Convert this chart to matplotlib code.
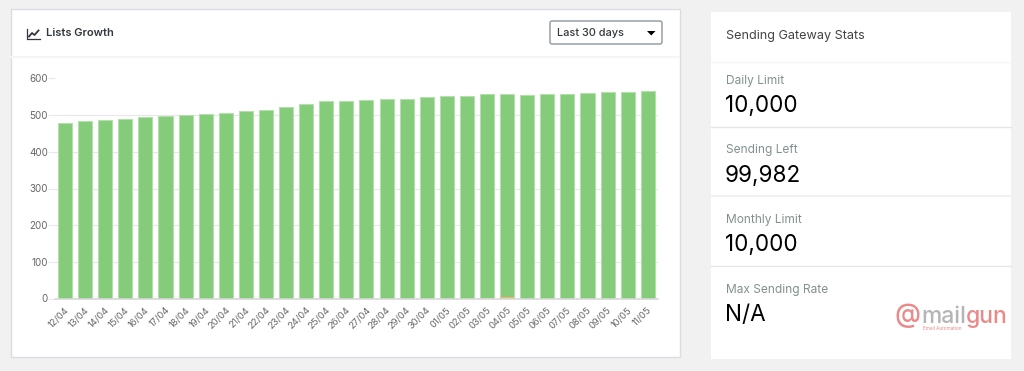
import matplotlib
matplotlib.use("Agg")
import matplotlib.pyplot as plt
from matplotlib.patches import Rectangle, Polygon, FancyBboxPatch
from matplotlib.transforms import ScaledTranslation

dates = ["12/04", "13/04", "14/04", "15/04", "16/04", "17/04", "18/04", "19/04", "20/04", "21/04",
         "22/04", "23/04", "24/04", "25/04", "26/04", "27/04", "28/04", "29/04", "30/04", "01/05",
         "02/05", "03/05", "04/05", "05/05", "06/05", "07/05", "08/05", "09/05", "10/05", "11/05"]
subscribers = [478, 484, 488, 490, 494, 497, 500, 502, 505, 510,
               513, 521, 530, 538, 539, 540, 544, 544, 549, 552,
               553, 557, 557, 555, 558, 559, 560, 562, 563, 565]
unsubscribed = [0, 0, 0, 0, 0, 0, 0, 0, 0, 0,
                0, 0, 0, 0, 0, 0, 0, 0, 0, 0,
                0, 2, 4, 0, 0, 0, 0, 0, 0, 0]
y_ticks = [0, 100, 200, 300, 400, 500, 600]

stat_labels = ["Daily Limit", "Sending Left", "Monthly Limit", "Max Sending Rate"]
stat_values = ["10,000", "99,982", "10,000", "N/A"]

W, H = 1024, 371
plt.rcParams["font.family"] = ["Inter", "DejaVu Sans"]
fig = plt.figure(figsize=(W / 100, H / 100), dpi=100, facecolor="#f1f1f1")

# page layer in pixel coordinates, y pointing down
page = fig.add_axes([0, 0, 1, 1])
page.set_xlim(0, W)
page.set_ylim(H, 0)
page.axis("off")

# left card
page.add_patch(Rectangle((10.5, 9), 669.5, 347.5, fc="white", ec="#d9dde1", lw=1))
page.plot([11, 679], [57, 57], color="#f5f5f5", lw=1.5)

# chart icon
page.plot([27, 27, 39.5], [29, 38.5, 38.5], color="#32373c", lw=0.9)
page.plot([29, 32, 34.5, 38.5], [36.5, 33, 35, 30.5], color="#32373c", lw=1.3)
page.text(46.5, 33.5, "Lists Growth", fontsize=8, fontweight="semibold", color="#32373c", va="center")

# dropdown
page.add_patch(FancyBboxPatch((550, 21), 112, 23, boxstyle="round,pad=0,rounding_size=2",
                              fc="white", ec="#8d96a0", lw=1))
page.text(557, 32.5, "Last 30 days", fontsize=7.9, fontweight="medium", color="#32373c", va="center")
page.add_patch(Polygon([[647, 31], [655.5, 31], [651.2, 35.5]], fc="black", ec="none"))

# right card
page.add_patch(Rectangle((711, 11.5), 300, 347.5, fc="white", ec="none"))
page.text(725.5, 36.5, "Sending Gateway Stats", fontsize=9.1, color="#444444", va="center")
page.plot([711, 1011], [61.5, 61.5], color="#f5f5f5", lw=1)
page.plot([711, 1011], [126.5, 126.5], color="#e6e6e6", lw=1)
page.plot([711, 1011], [196, 196], color="#f1f1f1", lw=1.5)
page.plot([711, 1011], [265.5, 265.5], color="#e6e6e6", lw=1)

label_y = [81, 150.5, 220, 289.5]
value_y = [106, 175.5, 245, 315]
for lab, val, ly, vy in zip(stat_labels, stat_values, label_y, value_y):
    page.text(725.5, ly, lab, fontsize=8.6, color="#82918f", va="center")
    page.text(725, vy, val, fontsize=16.2, color="black", va="center")

# mailgun logo
page.text(907.5, 315, "@", fontsize=19, fontweight="medium", color="#e98a8a", ha="center", va="center")
page.text(921.5, 323, "mail", fontsize=16.5, fontweight="medium", color="#b5b5b5", va="baseline")
page.text(966, 323, "gun", fontsize=16.5, fontweight="medium", color="#e98a8a", va="baseline")
page.text(923, 328.5, "Email Automation", fontsize=3.4, color="#e98a8a", va="center")

# chart
x0, x1, y_top, y_bottom = 55, 657.8, 78.5, 298.5
ax = fig.add_axes([x0 / W, 1 - y_bottom / H, (x1 - x0) / W, (y_bottom - y_top) / H])
ax.patch.set_alpha(0)
positions = list(range(len(dates)))
ax.bar(positions, subscribers, width=0.7, color="#84cb7a", edgecolor="#b4e0ae", linewidth=0.8, zorder=3)
ax.bar(positions, unsubscribed, width=0.7, color="#f3b27a", linewidth=0, zorder=4)
ax.set_xlim(-0.5, len(dates) - 0.5)
ax.set_ylim(0, 600)
ax.set_yticks(y_ticks)
ax.set_xticks(positions)
ax.set_xticklabels(dates, rotation=45, ha="right", va="top", rotation_mode="anchor")
ax.tick_params(axis="y", length=5, width=0.8, color="#e8e8e8", labelsize=7.1, labelcolor="#666666", pad=0)
ax.tick_params(axis="x", length=0, labelsize=6.8, labelcolor="#666666", pad=5)
# nudge the rotated labels left, they sit just under the bar centre
for lab in ax.get_xticklabels():
    lab.set_transform(lab.get_transform() + ScaledTranslation(-0.5 / 100, 0, fig.dpi_scale_trans))
ax.grid(axis="y", color="#e8e8e8", lw=0.8, zorder=0)
for side in ["top", "right", "left"]:
    ax.spines[side].set_visible(False)
ax.spines["bottom"].set_color("#d8d8d8")
ax.spines["bottom"].set_linewidth(1.2)
ax.spines["bottom"].set_zorder(5)

fig.savefig("out.png", dpi=100, facecolor=fig.get_facecolor())
